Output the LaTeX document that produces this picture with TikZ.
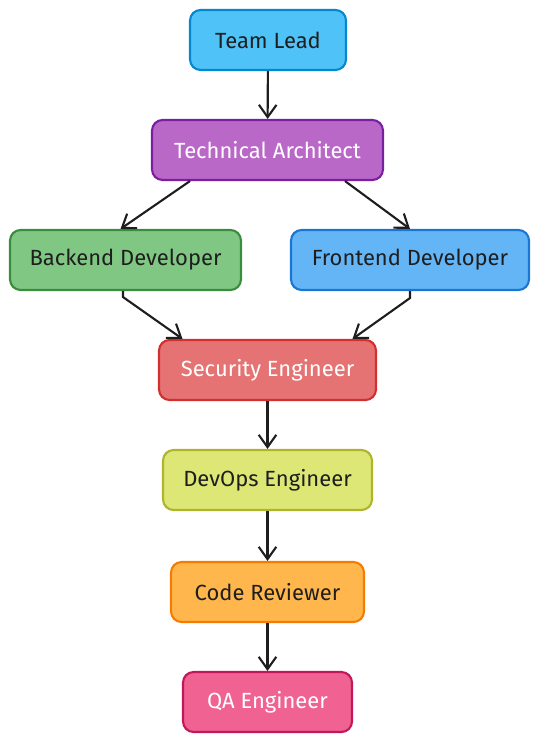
\documentclass[tikz,border=0pt]{standalone}
\usepackage{fontspec}
\setmainfont{Fira Sans}
\usepackage{tikz}
\usetikzlibrary{arrows.meta}
\usepackage{xcolor}

\definecolor{leadfill}{HTML}{4FC3F7}\definecolor{leaddraw}{HTML}{0288D1}
\definecolor{archfill}{HTML}{BA68C8}\definecolor{archdraw}{HTML}{7B1FA2}
\definecolor{backfill}{HTML}{81C784}\definecolor{backdraw}{HTML}{388E3C}
\definecolor{frontfill}{HTML}{64B5F6}\definecolor{frontdraw}{HTML}{1976D2}
\definecolor{secfill}{HTML}{E57373}\definecolor{secdraw}{HTML}{D32F2F}
\definecolor{opsfill}{HTML}{DCE775}\definecolor{opsdraw}{HTML}{AFB42B}
\definecolor{revfill}{HTML}{FFB74D}\definecolor{revdraw}{HTML}{F57C00}
\definecolor{qafill}{HTML}{F06292}\definecolor{qadraw}{HTML}{C2185B}
\definecolor{ink}{HTML}{1E1E1E}

\begin{document}
\begin{tikzpicture}[x=0.02cm,y=-0.02cm,
		role/.style={draw,rounded corners=6pt,line width=1.2pt,minimum height=1.2cm,
			inner sep=0pt,font=\fontsize{12.5}{14}\selectfont,text=ink},
		link/.style={ink,line width=1.2pt,-{Straight Barb[length=7pt,width=10pt]}}]
	\useasboundingbox (0,0) rectangle (538,742);
	
	\node[role,fill=leadfill,draw=leaddraw,minimum width=3.12cm] (lead) at (268,40) {Team Lead};
	\node[role,fill=archfill,draw=archdraw,minimum width=4.62cm,text=white] (arch) at (267.5,150) {Technical Architect};
	\node[role,fill=backfill,draw=backdraw,minimum width=4.62cm] (back) at (125.5,260) {Backend Developer};
	\node[role,fill=frontfill,draw=frontdraw,minimum width=4.76cm] (front) at (410,260) {Frontend Developer};
	\node[role,fill=secfill,draw=secdraw,minimum width=4.34cm,text=white] (sec) at (267.5,370) {Security Engineer};
	\node[role,fill=opsfill,draw=opsdraw,minimum width=4.18cm] (ops) at (267.5,480) {DevOps Engineer};
	\node[role,fill=revfill,draw=revdraw,minimum width=3.86cm] (rev) at (267.5,592) {Code Reviewer};
	\node[role,fill=qafill,draw=qadraw,minimum width=3.38cm,text=white] (qa) at (267.5,702) {QA Engineer};
	
	\draw[link] (lead) -- (arch);
	% split to the two developers
	\draw[link] ([xshift=-1.55cm]arch.south) -- ([xshift=-0.1cm]back.north);
	\draw[link] ([xshift=1.55cm]arch.south) -- (front.north);
	% and back together
	\draw[link] ([xshift=-0.05cm]back.south) -- ++(0,6) -- ([xshift=-1.7cm]sec.north);
	\draw[link] (front.south) -- ++(0,7) -- ([xshift=1.7cm]sec.north);
	\draw[link] (sec) -- (ops);
	\draw[link] (ops) -- (rev);
	\draw[link] (rev) -- (qa);
\end{tikzpicture}
\end{document}
